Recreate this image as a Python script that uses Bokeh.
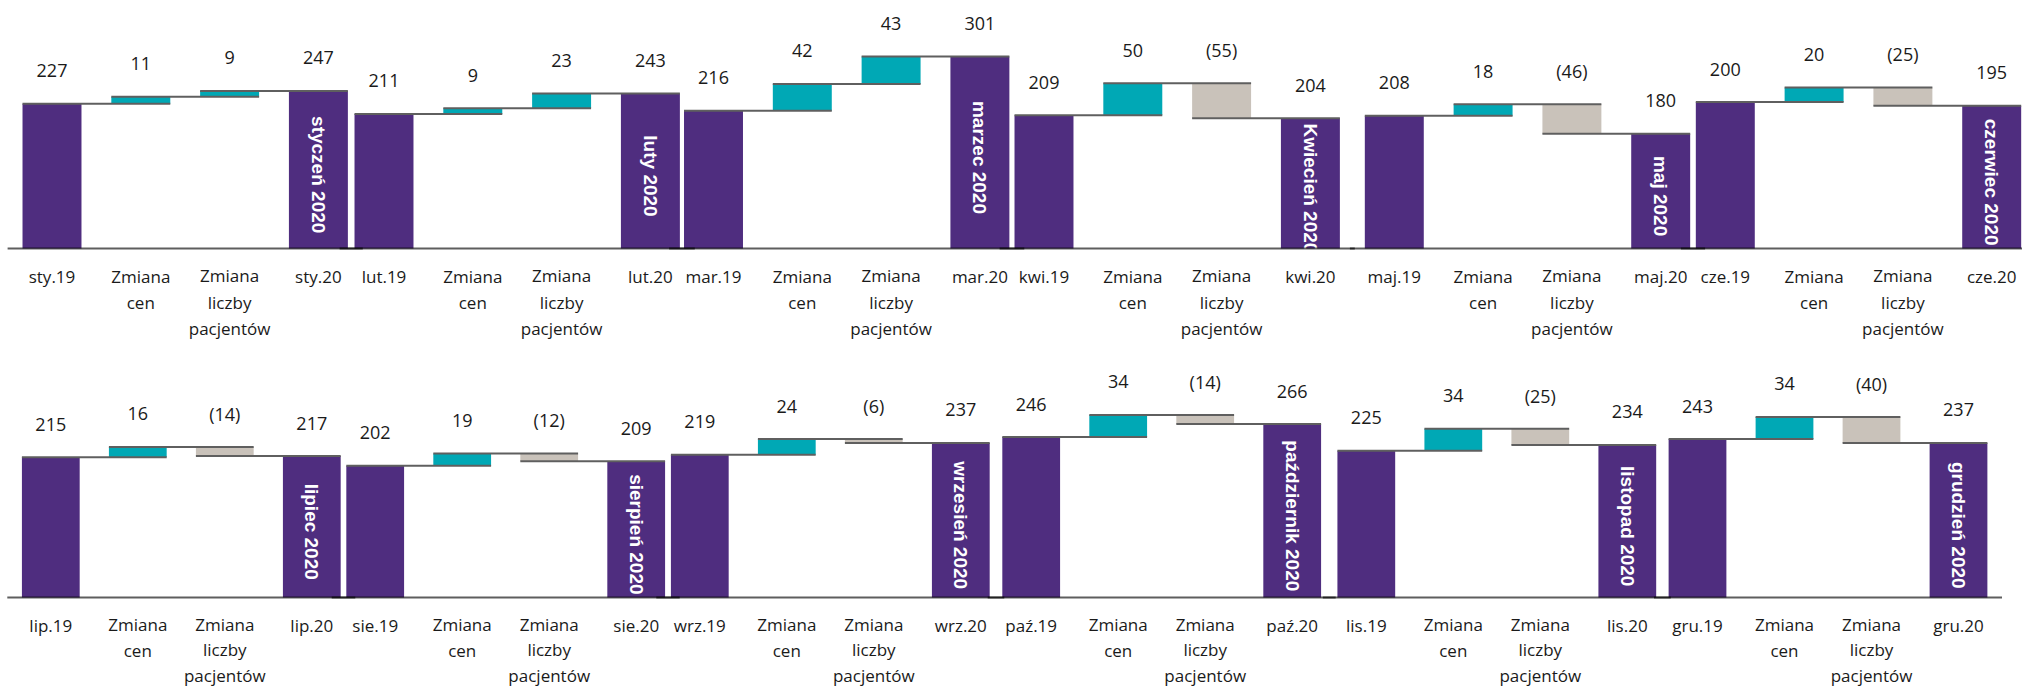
import math
from bokeh.plotting import figure
from bokeh.models import Range1d, ColumnDataSource
from bokeh.layouts import column
from bokeh.embed import file_html
from bokeh.resources import INLINE
from bokeh.core.properties import value

# ---------------- data ----------------
start_labels = ["sty.19", "lut.19", "mar.19", "kwi.19", "maj.19", "cze.19",
                "lip.19", "sie.19", "wrz.19", "paź.19", "lis.19", "gru.19"]
end_labels = ["sty.20", "lut.20", "mar.20", "kwi.20", "maj.20", "cze.20",
              "lip.20", "sie.20", "wrz.20", "paź.20", "lis.20", "gru.20"]
month_names = ["styczeń 2020", "luty 2020", "marzec 2020", "Kwiecień 2020",
               "maj 2020", "czerwiec 2020", "lipiec 2020", "sierpień 2020",
               "wrzesień 2020", "październik 2020", "listopad 2020", "grudzień 2020"]
step_labels = ["Zmiana\ncen", "Zmiana\nliczby\npacjentów"]

start_vals = [227, 211, 216, 209, 208, 200, 215, 202, 219, 246, 225, 243]
price_change = [11, 9, 42, 50, 18, 20, 16, 19, 24, 34, 34, 34]
patient_change = [9, 23, 43, -55, -46, -25, -14, -12, -6, -14, -25, -40]
end_vals = [247, 243, 301, 204, 180, 195, 217, 209, 237, 266, 234, 237]

# ---------------- styling / layout ----------------
PURPLE = "#4F2D7F"
TEAL = "#00A8B5"
BEIGE = "#C9C2BA"
LINE = "#5F5F5F"
TXT = "#1a1a1a"
BAR_FRAC = 0.664

rows = [
    dict(panels=list(range(0, 6)), width=2022, height=344, above=248, slot=88.8,
         starts=[7.1, 339.1, 668.6, 999.1, 1349.4, 1680.4],
         scales=[0.638, 0.638, 0.638, 0.638, 0.638, 0.732],
         first=28.4, step=25.5, lh=1.15),
    dict(panels=list(range(6, 12)), width=2022, height=344, above=253, slot=87.0,
         starts=[6.8, 331.2, 655.8, 987.2, 1322.3, 1653.5],
         scales=[0.652] * 6,
         first=27.5, step=24.8, lh=1.12),
]


def fmt(v):
    return str(v) if v >= 0 else "(%d)" % (-v)


figs = []
for row in rows:
    W, H, A = row["width"], row["height"], row["above"]
    below = H - A
    slot = row["slot"]
    p = figure(width=W, height=H, x_range=Range1d(0, W), y_range=Range1d(-below, A),
               x_axis_type=None, y_axis_type=None,
               output_backend="svg", toolbar_location=None,
               min_border_left=0, min_border_right=0, min_border_top=0,
               min_border_bottom=0)
    p.outline_line_color = None
    p.background_fill_color = "white"
    p.border_fill_color = "white"
    p.grid.visible = False

    tick_x, tick_text, tick_y = [], [], []
    base_x0, base_x1 = [], []
    for j, k in enumerate(row["panels"]):
        rname = "p%d" % k
        sc = row["scales"][j]
        p.extra_y_ranges[rname] = Range1d(-below / sc, A / sc)
        x0 = row["starts"][j]
        centers = [x0 + (i + 0.5) * slot for i in range(4)]
        bw = BAR_FRAC * slot
        s, pc, pp, e = start_vals[k], price_change[k], patient_change[k], end_vals[k]
        L0, L1, L2 = s, s + pc, s + pc + pp
        bottoms = [0, min(L0, L1), min(L1, L2), 0]
        tops = [L0, max(L0, L1), max(L1, L2), e]
        colors = [PURPLE, TEAL if pc >= 0 else BEIGE, TEAL if pp >= 0 else BEIGE, PURPLE]
        labels = [fmt(s), fmt(pc), fmt(pp), fmt(e)]
        src = ColumnDataSource(dict(x=centers, bottom=bottoms, top=tops,
                                    color=colors, label=labels))
        p.vbar(x="x", width=bw, bottom="bottom", top="top", fill_color="color",
               line_color=None, source=src, y_range_name=rname)
        # connector lines
        lefts = [c - bw / 2 for c in centers]
        rights = [c + bw / 2 for c in centers]
        p.segment(x0=lefts[:3], x1=rights[1:], y0=[L0, L1, L2], y1=[L0, L1, L2],
                  line_color=LINE, line_width=2, y_range_name=rname)
        # value labels
        p.text(x="x", y="top", text="label", source=src, y_range_name=rname,
               text_font=value("Open Sans"), text_font_size="18px",
               text_color=TXT, text_align="center", text_baseline="middle",
               y_offset=-33)
        # month name inside the final bar
        p.text(x=[centers[3]], y=[e / 2], text=[month_names[k]], y_range_name=rname,
               angle=-math.pi / 2, text_font=value("Liberation Sans"),
               text_font_style="bold", text_font_size="19px", text_color="white",
               text_align="center", text_baseline="middle", y_offset=5)
        for c, t in zip(centers, [start_labels[k], step_labels[0], step_labels[1], end_labels[k]]):
            n = t.count("\n") + 1
            tick_x.append(c)
            tick_text.append(t)
            tick_y.append(-(row["first"] + (n - 1) * row["step"] / 2))
        base_x0.append(x0)
        base_x1.append(x0 + 4 * slot)

    # baseline of each panel (overlaps darken, as in the original)
    p.segment(x0=base_x0, x1=base_x1, y0=[0] * len(base_x0), y1=[0] * len(base_x0),
              line_color="black", line_alpha=0.63, line_width=2)
    # category labels under the baseline
    p.text(x=tick_x, y=tick_y, text=tick_text,
           text_font=value("Open Sans"), text_font_size="17px", text_color=TXT,
           text_align="center", text_baseline="middle", text_line_height=row["lh"])
    figs.append(p)

layout = column(*figs, spacing=0)
open("out.html", "w").write(file_html(layout, INLINE))
